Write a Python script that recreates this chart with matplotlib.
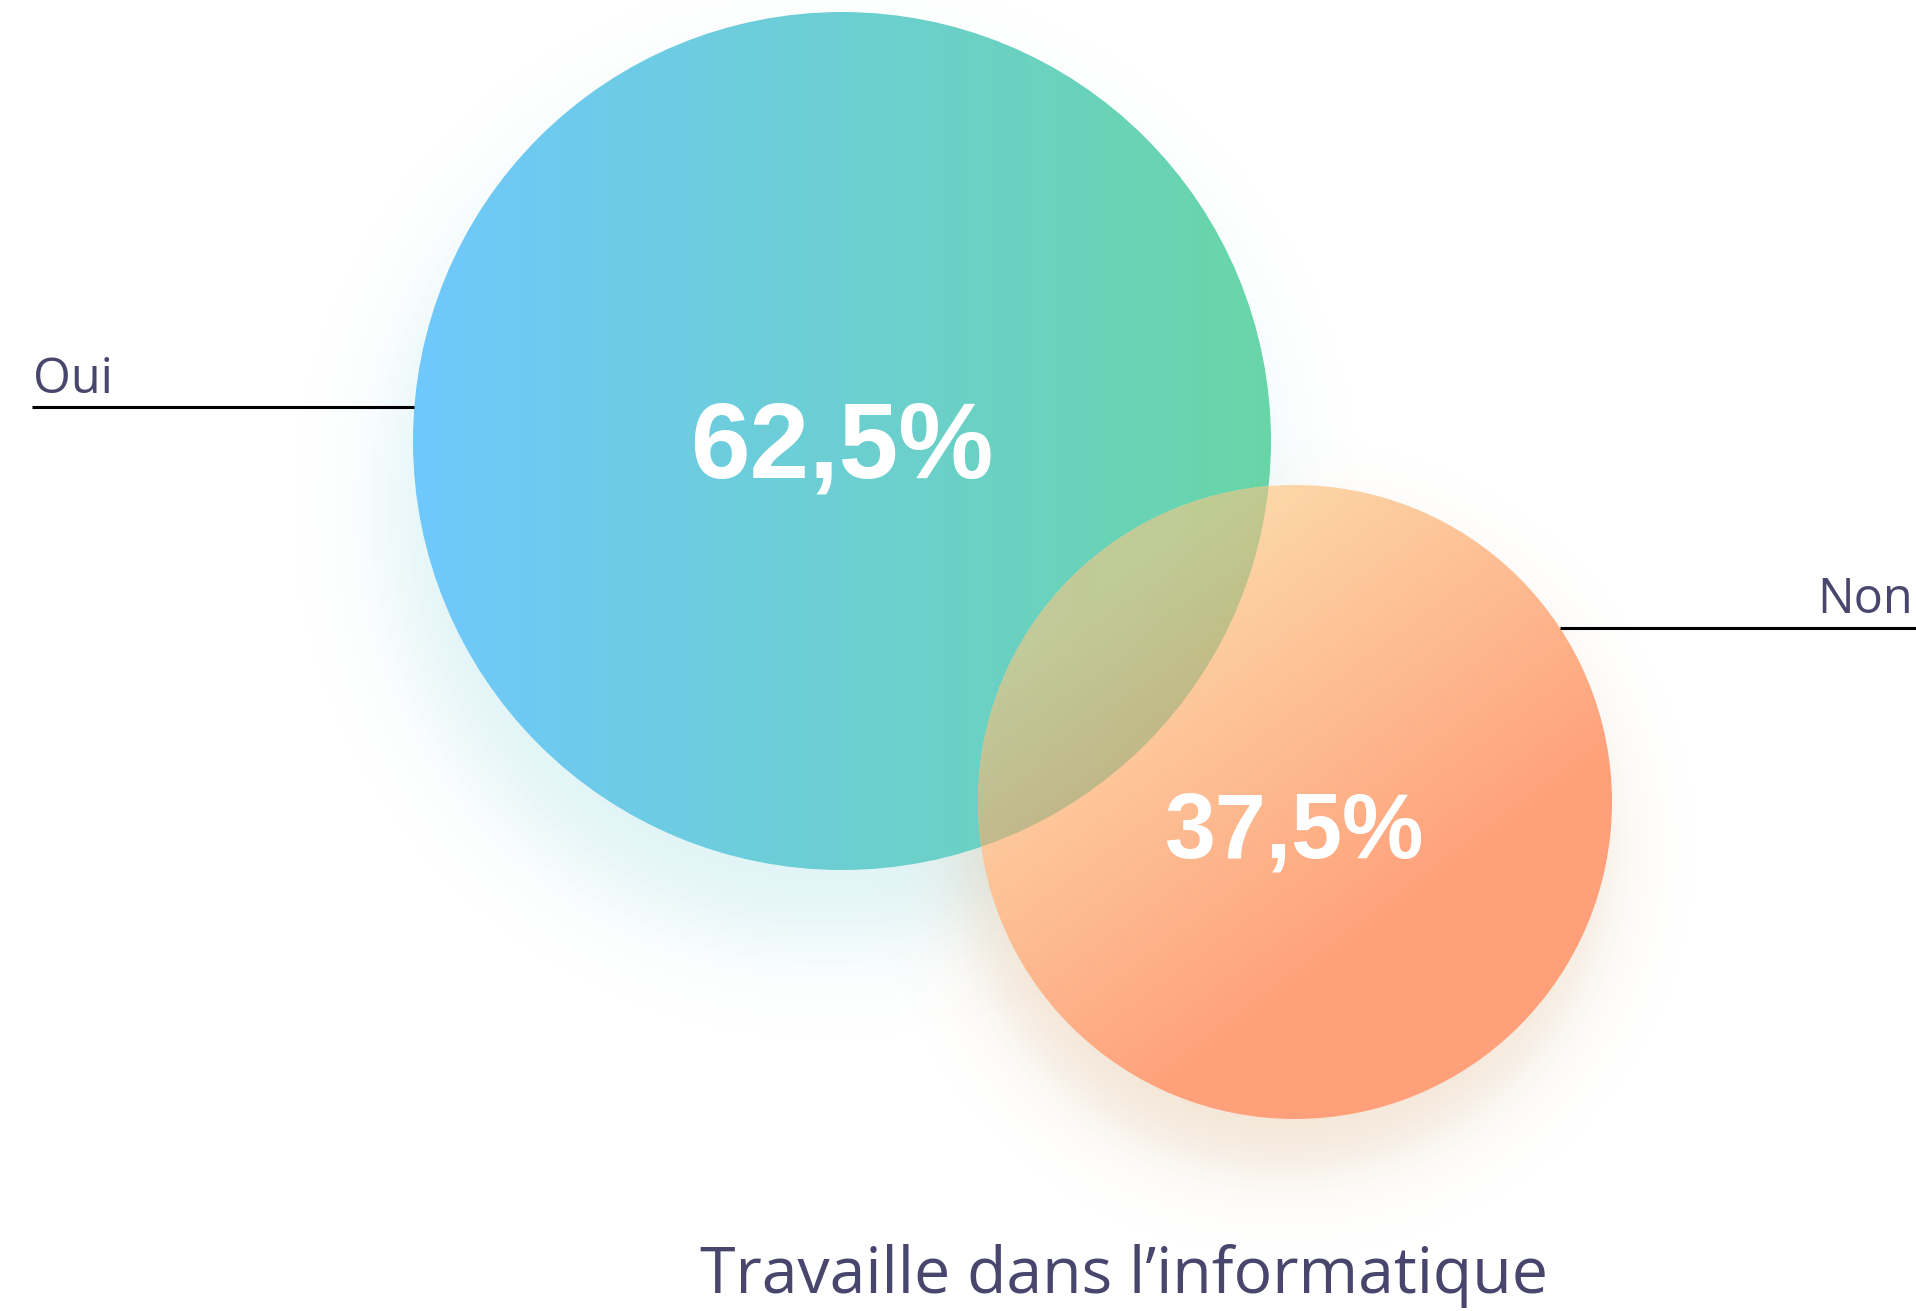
import numpy as np
import matplotlib
matplotlib.use('Agg')
import matplotlib.pyplot as plt
from matplotlib.patches import Circle

# data
labels = ['Oui', 'Non']
values = [62.5, 37.5]
title = 'Travaille dans l\u2019informatique'

# layout (pixels)
W, H = 1916, 1311
centers = [(842, 441), (1295, 802)]
radii = [429, 317]
label_y = [407, 628]
text_col = '#48466d'

fig = plt.figure(figsize=(W / 100, H / 100), dpi=100)
ax = fig.add_axes([0, 0, 1, 1])
ax.axis('off')

yy, xx = np.mgrid[0:H, 0:W] + 0.5
ext = (0, W, H, 0)


def shadow(cx, cy, r, dx, dy, grow, soft, rgb, peak):
    d = np.hypot(xx - cx - dx, yy - cy - dy)
    a = peak * 0.5 * (1 - np.tanh((d - r - grow) / soft))
    img = np.zeros((H, W, 4))
    img[..., :3] = np.array(rgb) / 255
    img[..., 3] = a
    ax.imshow(img, extent=ext, zorder=1, aspect='auto')


(c1x, c1y), (c2x, c2y) = centers
r1, r2 = radii

shadow(c1x, c1y, r1, -15, 65, 5, 50, (100, 200, 210), 0.2)
shadow(c2x, c2y, r2, -10, 45, 5, 40, (215, 170, 120), 0.3)

# big circle: horizontal gradient blue -> green
b0 = np.array([112, 200, 252]) / 255
b1 = np.array([104, 214, 168]) / 255
t = np.clip((xx - (c1x - r1)) / (2 * r1), 0, 1)[..., None]
C = b0 * (1 - t) + b1 * t
circ1 = Circle((c1x, c1y), r1, facecolor='none', edgecolor='none')
ax.add_patch(circ1)
im1 = ax.imshow(C, extent=ext, zorder=2, aspect='auto')
im1.set_clip_path(circ1)

# small circle: diagonal gradient peach -> salmon
o0 = np.array([252, 218, 170]) / 255
o1 = np.array([255, 160, 122]) / 255
proj = ((xx - c2x) * 0.6 + (yy - c2y) * 0.8) / r2
t2 = np.clip((proj + 0.9) / 1.4, 0, 1)[..., None]
O = o0 * (1 - t2) + o1 * t2
circ2 = Circle((c2x, c2y), r2, facecolor='none', edgecolor='none')
ax.add_patch(circ2)
im2 = ax.imshow(O, extent=ext, zorder=3, aspect='auto')
im2.set_clip_path(circ2)

# overlap blend
mix = np.zeros((H, W, 4))
mix[..., :3] = O * (0.6 + 0.4 * C)
mix[..., 3] = np.clip(r2 - np.hypot(xx - c2x, yy - c2y) + 0.5, 0, 1)
circ1b = Circle((c1x, c1y), r1, facecolor='none', edgecolor='none')
ax.add_patch(circ1b)
im3 = ax.imshow(mix, extent=ext, zorder=4, aspect='auto')
im3.set_clip_path(circ1b)

ax.set_xlim(0, W)
ax.set_ylim(H, 0)

# percentage labels
pct_sizes = [77, 66]
pct_base = [478, 857]
for v, (cx, cy), fs, yb in zip(values, centers, pct_sizes, pct_base):
    ax.text(cx, yb, f'{v:.1f}%'.replace('.', ','), ha='center', va='baseline',
            color='white', fontsize=fs, fontweight='bold',
            family='Liberation Sans', zorder=6)

# leader lines and category labels
y0 = label_y[0]
x_edge = c1x - np.sqrt(r1 ** 2 - (y0 - c1y) ** 2)
ax.plot([32, x_edge], [y0, y0], color='black', lw=2.2, zorder=5,
        solid_capstyle='butt')
ax.text(33, 393, labels[0], ha='left', va='baseline', fontsize=35,
        family='Open Sans', color=text_col, zorder=6)

y1 = label_y[1]
x_edge2 = c2x + np.sqrt(r2 ** 2 - (y1 - c2y) ** 2)
ax.plot([x_edge2, W], [y1, y1], color='black', lw=2.2, zorder=5,
        solid_capstyle='butt')
ax.text(1913, 613, labels[1], ha='right', va='baseline', fontsize=35,
        family='Open Sans', color=text_col, zorder=6)

ax.text(1124, 1293, title, ha='center', va='baseline', fontsize=46.4,
        family='Open Sans', color=text_col, zorder=6)

fig.savefig('out.png', dpi=100)
